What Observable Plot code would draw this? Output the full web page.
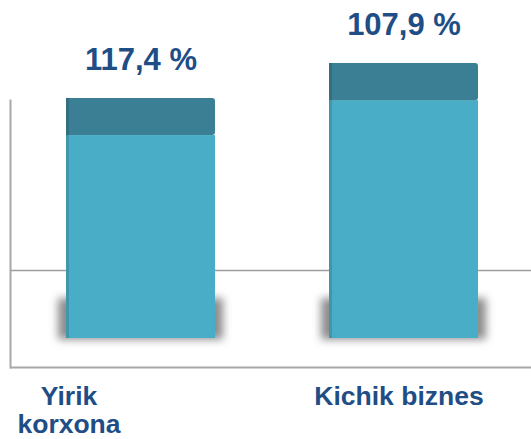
<!DOCTYPE html>
<html>
<head>
<meta charset="utf-8">
<script src="https://cdn.jsdelivr.net/npm/d3@7"></script>
<script src="https://cdn.jsdelivr.net/npm/@observablehq/plot@0.6"></script>
<style>
  html, body { margin: 0; padding: 0; background: #fff; }
  #chart svg { display: block; }
</style>
</head>
<body>
<div id="chart"></div>
<script>
// Categories and values
const categories = ["Yirik\nkorxona", "Kichik biznes"];
const growthLabels = ["117,4 %", "107,9 %"];
// relative bar heights (index, tallest bar = 100)
const barValues = [87.3, 100];
const gridValues = [24.7];
const baseValue = -10.5;

const data = categories.map((c, i) => ({cat: c, value: barValues[i], label: growthLabels[i]}));
const capSize = 13.5;

const labelFont = "'Liberation Sans', Arial, Helvetica, sans-serif";
const textColor = "#1f4e86";

const chart = Plot.plot({
  width: 531,
  height: 439,
  marginLeft: 10,
  marginRight: 0,
  marginTop: 100,
  marginBottom: 72,
  x: {domain: categories, range: [9, 535], paddingInner: 0.4335, paddingOuter: 0.2165, axis: null},
  y: {domain: [0, 100], range: [338, 63], axis: null},
  marks: [
    Plot.ruleY(gridValues, {stroke: "#9e9e9e", strokeWidth: 1.5}),
    Plot.ruleY([baseValue], {stroke: "#a8a8a8", strokeWidth: 2}),
    Plot.frame({anchor: "left", stroke: "#a8a8a8", strokeWidth: 2}),
    // floor shadow
    Plot.barY(data, {x: "cat", y1: -0.5, y2: 14.5, insetLeft: -8, insetRight: -8, fill: "#8c8c8c", imageFilter: "blur(4.5px)"}),
    // bar body
    Plot.barY(data, {x: "cat", y1: 0, y2: d => d.value - capSize, fill: "#4aadc7"}),
    // cap
    Plot.barY(data, {x: "cat", y1: d => d.value - capSize, y2: "value", fill: "#3a7f94", rx: 3}),
    // left side darker edge
    Plot.barY(data, {x: "cat", y1: 0, y2: d => d.value - capSize, insetRight: 146, fill: "#3f96ad"}),
    Plot.barY(data, {x: "cat", y1: d => d.value - capSize, y2: "value", insetRight: 146, fill: "#336f81"}),
    // value labels
    Plot.text(data, {x: "cat", y: "value", text: "label", dy: -38, lineAnchor: "middle",
      fontSize: 31, fontWeight: "bold", fill: textColor, fontFamily: labelFont}),
    // category labels
    Plot.text(data.slice(0, 1), {x: "cat", y: baseValue, text: "cat", dy: 18, dx: -72, lineAnchor: "top",
      lineHeight: 1.04, fontSize: 26.5, fontWeight: "bold", fill: textColor, fontFamily: labelFont}),
    Plot.text(data.slice(1), {x: "cat", y: baseValue, text: "cat", dy: 18, dx: -5, lineAnchor: "top",
      lineHeight: 1.04, fontSize: 26.5, fontWeight: "bold", fill: textColor, fontFamily: labelFont})
  ]
});
document.getElementById("chart").appendChild(chart);
</script>
</body>
</html>
